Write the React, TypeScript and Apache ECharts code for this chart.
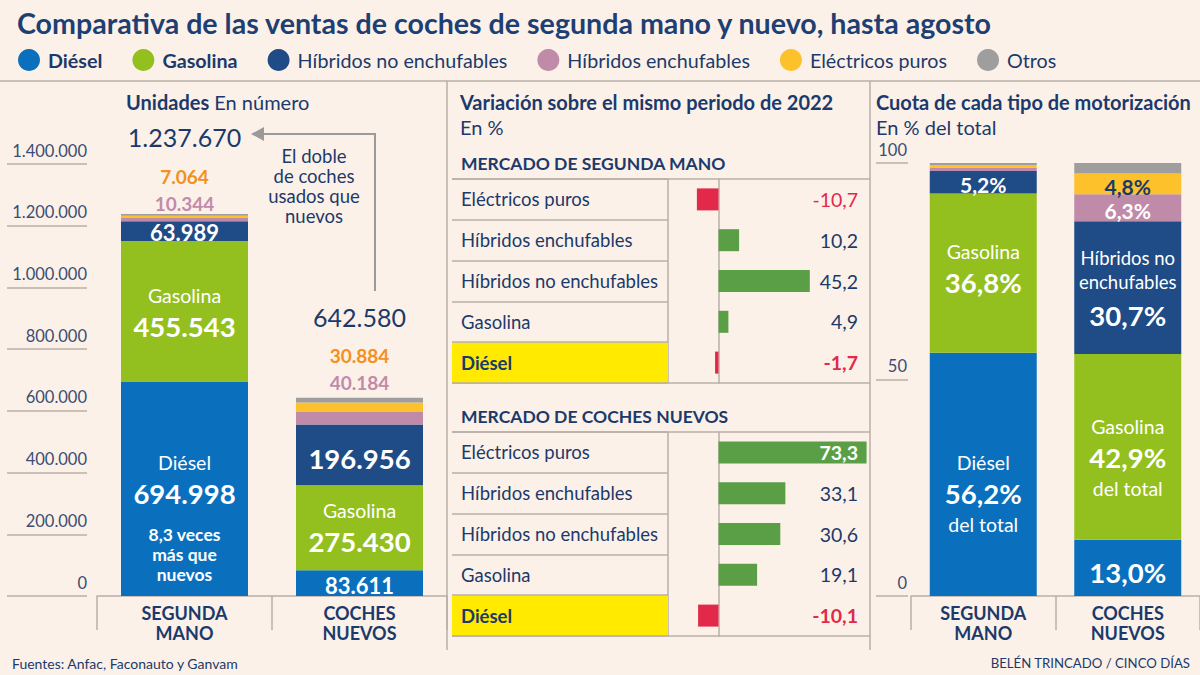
import React, { useEffect, useRef } from 'react';
import * as echarts from 'echarts';

// ---------- data ----------
const TITLE = 'Comparativa de las ventas de coches de segunda mano y nuevo, hasta agosto';
const types = ['Diésel', 'Gasolina', 'Híbridos no enchufables', 'Híbridos enchufables', 'Eléctricos puros', 'Otros'];
const markets = ['SEGUNDA\nMANO', 'COCHES\nNUEVOS'];
const usedUnits = [694998, 455543, 63989, 10344, 7064, 5732];
const newUnits = [83611, 275430, 196956, 40184, 30884, 15515];
const varCats = ['Eléctricos puros', 'Híbridos enchufables', 'Híbridos no enchufables', 'Gasolina', 'Diésel'];
const usedVar = [-10.7, 10.2, 45.2, 4.9, -1.7];
const newVar = [73.3, 33.1, 30.6, 19.1, -10.1];
const unitAxis = { min: 0, max: 1400000, interval: 200000 };
const shareAxis = { min: 0, max: 100, interval: 50 };
const varAxis = { min: -25, max: 75 };

// ---------- style ----------
const FONT = 'Lato';
const NAVY = '#1b3a6b';
const AXIS_TXT = '#3a4d74';
const LINE = '#b9afa8';
const BG = '#fcf1e8';
const COLORS = ['#0a70be', '#94c01f', '#1f4c86', '#c08aa9', '#fcc12b', '#9e9e9e'];
const GREEN = '#5a9f46';
const RED = '#e2294a';
const ORANGE = '#f29020';
const PINK_TXT = '#c28aaa';
const YELLOW = '#ffea00';

const fmtInt = (n: number) => String(Math.round(n)).replace(/\B(?=(\d{3})+(?!\d))/g, '.');
const fmtDec = (n: number) => n.toFixed(1).replace('.', ',');

const unitsByMarket = [usedUnits, newUnits];
const totals = unitsByMarket.map((a) => a.reduce((s, v) => s + v, 0));
const shares = unitsByMarket.map((a, m) => a.map((v) => (v / totals[m]) * 100));

const richU: any = {
  n: { fontSize: 19.5, color: '#fff', lineHeight: 30, fontFamily: FONT },
  b: { fontSize: 27.5, fontWeight: 'bold', color: '#fff', lineHeight: 32, fontFamily: FONT },
  s: { fontSize: 6, lineHeight: 15 },
  c: { fontSize: 17.5, fontWeight: 'bold', color: '#fff', lineHeight: 20, fontFamily: FONT },
  v: { fontSize: 22, fontWeight: 'bold', color: '#fff', fontFamily: FONT },
  t: { fontSize: 25, color: NAVY, lineHeight: 46, fontFamily: FONT },
  o: { fontSize: 19, fontWeight: 'bold', color: ORANGE, lineHeight: 32, fontFamily: FONT },
  p: { fontSize: 19, fontWeight: 'bold', color: PINK_TXT, lineHeight: 22, fontFamily: FONT },
};

const richP: any = {
  n: { fontSize: 19.5, color: '#fff', lineHeight: 30, fontFamily: FONT },
  b: { fontSize: 27.5, fontWeight: 'bold', color: '#fff', lineHeight: 32, fontFamily: FONT },
  h: { fontSize: 18.5, color: '#fff', lineHeight: 24, fontFamily: FONT },
  k: { fontSize: 27.5, fontWeight: 'bold', color: '#fff', lineHeight: 44, fontFamily: FONT },
  v: { fontSize: 21, fontWeight: 'bold', color: '#fff', fontFamily: FONT },
  d: { fontSize: 21, fontWeight: 'bold', color: NAVY, fontFamily: FONT },
};

function lab(text: string, offset: number[], rich: any) {
  return { show: true, position: 'inside', offset, formatter: () => text, rich };
}

function unitLabel(i: number, m: number): any {
  const arr = unitsByMarket[m];
  const u = arr[i];
  if (i === 5) {
    const txt = `{t|${fmtInt(totals[m])}}\n{o|${fmtInt(arr[4])}}\n{p|${fmtInt(arr[3])}}`;
    return { show: true, position: 'top', distance: m === 0 ? 0 : 4, formatter: () => txt, rich: richU };
  }
  if (m === 0) {
    if (i === 0) {
      const ratio = fmtDec(usedUnits[0] / newUnits[0]);
      return lab(`{n|${types[0]}}\n{b|${fmtInt(u)}}\n{s| }\n{c|${ratio} veces}\n{c|más que}\n{c|nuevos}`, [0, 27], richU);
    }
    if (i === 1) return lab(`{n|${types[1]}}\n{b|${fmtInt(u)}}`, [0, 0], richU);
    if (i === 2) return lab(`{v|${fmtInt(u)}}`, [0, 1], richU);
  } else {
    if (i === 0) return lab(`{v|${fmtInt(u)}}`, [0, 2], richU);
    if (i === 1) return lab(`{n|${types[1]}}\n{b|${fmtInt(u)}}`, [0, -1], richU);
    if (i === 2) return lab(`{b|${fmtInt(u)}}`, [0, 4], richU);
  }
  return { show: false };
}

function shareLabel(i: number, m: number): any {
  const p = fmtDec(shares[m][i]) + '%';
  if (m === 0) {
    if (i === 0) return lab(`{n|${types[0]}}\n{b|${p}}\n{n|del total}`, [0, 19], richP);
    if (i === 1) return lab(`{n|${types[1]}}\n{b|${p}}`, [0, -6], richP);
    if (i === 2) return lab(`{v|${p}}`, [0, 2], richP);
  } else {
    if (i === 0) return lab(`{b|${p}}`, [0, 5], richP);
    if (i === 1) return lab(`{n|${types[1]}}\n{b|${p}}\n{n|del total}`, [0, 11], richP);
    if (i === 2) {
      const parts = types[2].split(' ');
      return lab(`{h|${parts[0]} ${parts[1]}}\n{h|${parts[2]}}\n{k|${p}}`, [0, 4], richP);
    }
    if (i === 3) return lab(`{v|${p}}`, [0, 3], richP);
    if (i === 4) return lab(`{d|${p}}`, [0, 3], richP);
  }
  return { show: false };
}

const gLine = (x1: number, y1: number, x2: number, y2: number, w = 1.5) => ({
  type: 'line', silent: true, shape: { x1, y1, x2, y2 }, style: { stroke: LINE, lineWidth: w },
});
const gText = (x: number, y: number, text: string, o: any = {}) => ({
  type: 'text', x, y, silent: true,
  style: {
    text, fill: NAVY, fontFamily: FONT, fontSize: 18,
    textAlign: o.align || 'left', align: o.align || 'left',
    textVerticalAlign: 'middle', verticalAlign: 'middle',
    ...o,
  },
});

function varValueAxis(gridIndex: number, vals: number[]): any {
  return {
    type: 'category', gridIndex, position: 'right', inverse: true, data: varCats, z: 5,
    axisLine: { show: false, onZero: false }, axisTick: { show: false }, splitLine: { show: false },
    axisLabel: {
      inside: true, margin: 12, align: 'right', interval: 0,
      formatter: (_v: string, idx: number) => {
        const v = vals[idx];
        const s = fmtDec(v);
        if (v > 60) return `{w|${s}}`;
        if (v < 0) return idx === 4 ? `{nb|${s}}` : `{n|${s}}`;
        return idx === 4 ? `{pb|${s}}` : `{p|${s}}`;
      },
      rich: {
        p: { fontSize: 19.5, color: NAVY, fontFamily: FONT },
        pb: { fontSize: 19.5, color: NAVY, fontWeight: 'bold', fontFamily: FONT },
        n: { fontSize: 19.5, color: RED, fontFamily: FONT },
        nb: { fontSize: 19.5, color: RED, fontWeight: 'bold', fontFamily: FONT },
        w: { fontSize: 19.5, color: '#fff', fontWeight: 'bold', fontFamily: FONT },
      },
    },
  };
}

function buildOption(): any {
  const catAxisLabel = { fontSize: 18, fontWeight: 'bold', color: NAVY, lineHeight: 20, margin: 7, interval: 0, fontFamily: FONT };
  const catTick = { show: true, length: 34, lineStyle: { color: LINE, width: 1.5 }, interval: 0 };
  const catLine = { show: true, lineStyle: { color: LINE, width: 1.5 } };

  const grids = [
    { left: 7, width: 80, top: 164, height: 432 }, // 0 unit axis labels
    { left: 97, width: 350, top: 164, height: 432 }, // 1 unit bars
    { left: 452, width: 216, top: 179, height: 204 }, // 2 used labels
    { left: 668, width: 202, top: 179, height: 204 }, // 3 used bars
    { left: 452, width: 216, top: 432, height: 204 }, // 4 new labels
    { left: 668, width: 202, top: 432, height: 204 }, // 5 new bars
    { left: 876, width: 32, top: 163, height: 433 }, // 6 share axis labels
    { left: 911, width: 298, top: 163, height: 433 }, // 7 share bars
  ];

  const labelAxisY = (gridIndex: number) => ({
    type: 'category', gridIndex, inverse: true, data: varCats, z: 5,
    axisLine: { show: false, onZero: false }, axisTick: { show: false },
    splitLine: { show: true, interval: 0, lineStyle: { color: LINE, width: 1.5 } },
    axisLabel: {
      inside: true, margin: 9, align: 'left', interval: 0, fontSize: 18.5, color: NAVY, fontFamily: FONT,
      formatter: (v: string, idx: number) => (idx === 4 ? `{b|${v}}` : v),
      rich: { b: { fontWeight: 'bold', fontSize: 18.5, color: NAVY, fontFamily: FONT } },
    },
  });
  const barAxisY = (gridIndex: number) => ({
    type: 'category', gridIndex, inverse: true, data: varCats,
    axisLine: { show: true, onZero: true, lineStyle: { color: LINE, width: 1.5 } },
    axisTick: { show: false }, axisLabel: { show: false }, splitLine: { show: false },
  });
  const valueAxisLabels = (gridIndex: number, ax: any, margin: number) => ({
    type: 'value', gridIndex, ...ax,
    axisLine: { show: false }, axisTick: { show: false },
    splitLine: { show: true, lineStyle: { color: LINE, width: 1.5 } },
    axisLabel: {
      inside: true, align: 'right', margin, verticalAlign: 'bottom', padding: [0, 0, 5, 0],
      fontSize: 16.5, color: AXIS_TXT, fontFamily: FONT, formatter: (v: number) => fmtInt(v),
    },
  });

  const xAxis = [
    { type: 'value', gridIndex: 0, show: false, min: 0, max: 1 },
    { type: 'category', gridIndex: 1, data: markets, axisLine: catLine, axisTick: catTick, axisLabel: catAxisLabel },
    { type: 'value', gridIndex: 2, show: false, min: 0, max: 1 },
    { type: 'value', gridIndex: 3, show: false, ...varAxis },
    { type: 'value', gridIndex: 4, show: false, min: 0, max: 1 },
    { type: 'value', gridIndex: 5, show: false, ...varAxis },
    { type: 'value', gridIndex: 6, show: false, min: 0, max: 1 },
    { type: 'category', gridIndex: 7, data: markets, axisLine: catLine, axisTick: catTick, axisLabel: catAxisLabel },
  ];

  const yAxis = [
    valueAxisLabels(0, unitAxis, 80),
    { type: 'value', gridIndex: 1, ...unitAxis, show: false },
    labelAxisY(2),
    barAxisY(3),
    labelAxisY(4),
    barAxisY(5),
    valueAxisLabels(6, shareAxis, 31),
    { type: 'value', gridIndex: 7, ...shareAxis, show: false },
    varValueAxis(3, usedVar),
    varValueAxis(5, newVar),
  ];

  const series: any[] = [];
  types.forEach((name, i) => {
    series.push({
      name, type: 'bar', xAxisIndex: 1, yAxisIndex: 1, stack: 'units', barWidth: 127,
      itemStyle: { color: COLORS[i] },
      data: [0, 1].map((m) => ({ value: unitsByMarket[m][i], label: unitLabel(i, m) })),
    });
  });
  types.forEach((name, i) => {
    series.push({
      name, type: 'bar', xAxisIndex: 7, yAxisIndex: 7, stack: 'share', barWidth: 107,
      itemStyle: { color: COLORS[i] },
      data: [0, 1].map((m) => ({ value: shares[m][i], label: shareLabel(i, m) })),
    });
  });
  // yellow highlight of the Diésel row
  const highlight = varCats.map((c) => (c === 'Diésel' ? 1 : '-'));
  [2, 4].forEach((g) => {
    series.push({
      name: 'hl' + g, type: 'bar', xAxisIndex: g, yAxisIndex: g, barWidth: '100%', silent: true,
      itemStyle: { color: YELLOW }, data: highlight, z: 1,
    });
  });
  [[3, usedVar], [5, newVar]].forEach(([g, vals]: any) => {
    series.push({
      name: 'var' + g, type: 'bar', xAxisIndex: g, yAxisIndex: g, barWidth: 22,
      data: vals.map((v: number) => ({ value: v, itemStyle: { color: v < 0 ? RED : GREEN } })),
    });
  });

  const graphic: any[] = [
    gLine(0, 81, 1200, 81),
    gLine(447, 81, 447, 650),
    gLine(870, 81, 870, 650),
    gLine(452, 179, 870, 179),
    gLine(452, 383, 870, 383),
    gLine(452, 432, 870, 432),
    gLine(452, 636, 870, 636),
    gLine(668, 179, 668, 383),
    gLine(668, 432, 668, 636),
    // arrow
    { type: 'polyline', silent: true, shape: { points: [[375, 291], [375, 134], [262, 134]] }, style: { stroke: '#9a9a9a', lineWidth: 2, fill: 'none' } },
    { type: 'polygon', silent: true, shape: { points: [[251, 134], [264, 127], [264, 141]] }, style: { fill: '#9a9a9a' } },
    gText(314, 186, 'El doble\nde coches\nusados que\nnuevos', { align: 'center', fontSize: 18.5, lineHeight: 20 }),
    // panel titles
    gText(126, 102, '{b|Unidades} En número', { fontSize: 20, rich: { b: { fontWeight: 'bold', fontSize: 20, fill: NAVY, fontFamily: FONT } } }),
    gText(460, 102, 'Variación sobre el mismo periodo de 2022', { fontSize: 20, fontWeight: 'bold' }),
    gText(460, 127, 'En %', { fontSize: 20 }),
    gText(461, 163, 'MERCADO DE SEGUNDA MANO', { fontSize: 17.5, fontWeight: 'bold' }),
    gText(461, 416, 'MERCADO DE COCHES NUEVOS', { fontSize: 17.5, fontWeight: 'bold' }),
    gText(876, 102, 'Cuota de cada tipo de motorización', { fontSize: 20, fontWeight: 'bold' }),
    gText(876, 127, 'En % del total', { fontSize: 20 }),
    // footer
    gText(12, 663, 'Fuentes: Anfac, Faconauto y Ganvam', { fontSize: 14 }),
    gText(1190, 663, 'BELÉN TRINCADO / CINCO DÍAS', { fontSize: 13.2, align: 'right' }),
  ];

  return {
    animation: false,
    backgroundColor: BG,
    textStyle: { fontFamily: FONT },
    title: { text: TITLE, left: 12, top: 3, textStyle: { fontSize: 28.6, fontWeight: 'bold', color: '#1d3f73', fontFamily: FONT } },
    legend: {
      left: 18, top: 49, padding: 0, icon: 'circle', itemWidth: 22, itemHeight: 22, itemGap: 30, selectedMode: false,
      textStyle: { fontSize: 19.7, color: NAVY, fontFamily: FONT, padding: [0, 0, 0, 3] },
      data: types.map((n, i) => ({ name: n, textStyle: i < 2 ? { fontWeight: 'bold' } : {} })),
    },
    grid: grids,
    xAxis,
    yAxis,
    series,
    graphic,
  };
}

export default function App() {
  const ref = useRef<HTMLDivElement>(null);
  useEffect(() => {
    if (!ref.current) return;
    const chart = echarts.init(ref.current, undefined, { renderer: 'svg' });
    chart.setOption(buildOption());
    return () => chart.dispose();
  }, []);
  return <div ref={ref} style={{ position: 'fixed', left: 0, top: 0, width: 1200, height: 675, background: BG }} />;
}
